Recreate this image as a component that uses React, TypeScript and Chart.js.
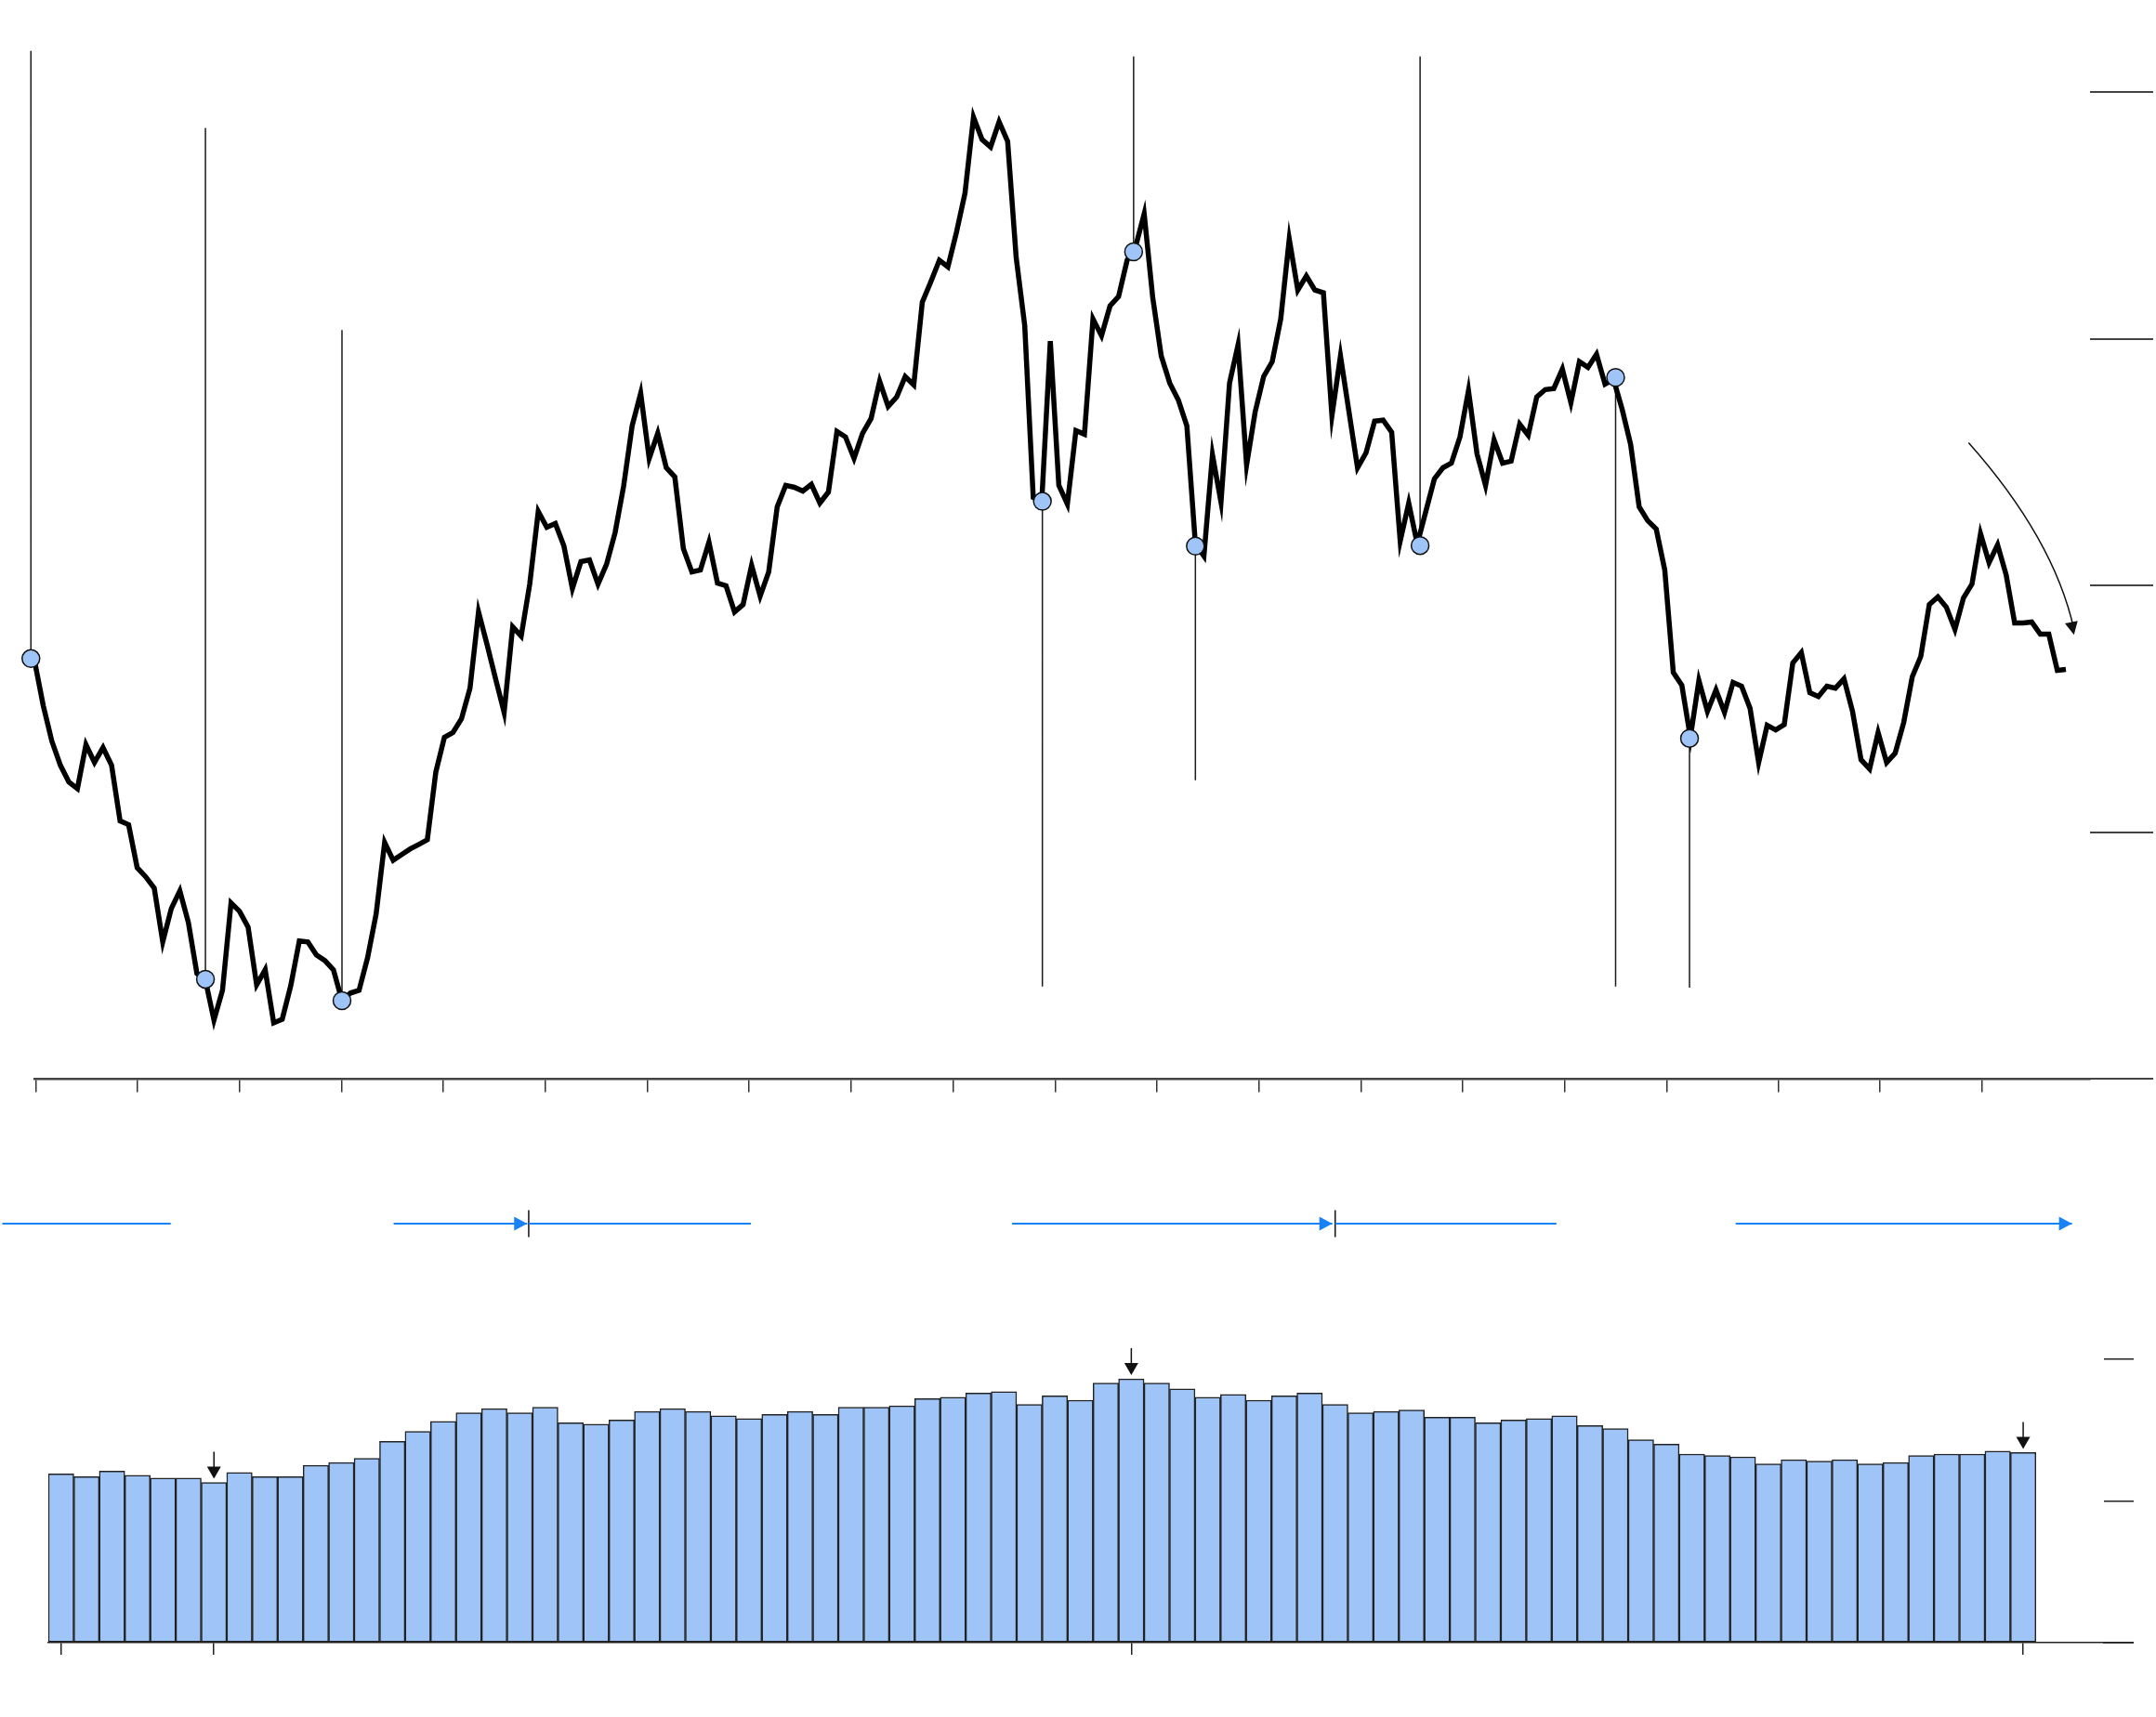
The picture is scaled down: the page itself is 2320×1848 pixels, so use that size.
import React, { useEffect, useRef } from "react";
import { Chart, registerables } from "chart.js";

Chart.register(...registerables);

// ---------------- data ----------------
// main series (one value per period)
const priceValues: number[] = [
  16.9, 15.13, 13.7, 12.72, 12.04, 11.77, 13.55, 12.83, 13.43, 12.72,
  10.46, 10.31, 8.57, 8.2, 7.74, 5.56, 6.91, 7.63, 6.35, 4.28,
  4.01, 2.39, 3.6, 7.14, 6.8, 6.16, 3.82, 4.43, 2.28, 2.43,
  3.79, 5.6, 5.56, 5.03, 4.8, 4.43, 3.18, 3.49, 3.6, 4.92,
  6.69, 9.59, 8.87, 9.1, 9.33, 9.51, 9.7, 12.45, 13.85, 14.04,
  14.6, 15.84, 18.93, 17.61, 16.22, 14.86, 18.33, 17.95, 20.06, 23.0,
  22.36, 22.51, 21.61, 19.88, 20.97, 21.04, 20.06, 20.86, 22.14, 24.02,
  26.47, 27.79, 25.15, 26.17, 24.77, 24.4, 21.5, 20.55, 20.63, 21.76,
  20.1, 19.99, 18.93, 19.23, 20.82, 19.57, 20.55, 23.19, 24.06, 23.98,
  23.83, 24.1, 23.34, 23.79, 26.24, 26.02, 25.15, 26.17, 26.77, 28.28,
  27.26, 27.64, 28.47, 28.13, 31.48, 32.31, 33.18, 32.91, 34.31, 35.89,
  38.98, 38.07, 37.77, 38.79, 38.0, 33.29, 30.54, 23.57, 23.42, 29.9,
  24.06, 23.3, 26.28, 26.13, 30.8, 30.12, 31.33, 31.71, 33.18, 33.74,
  35.06, 31.67, 29.3, 28.2, 27.52, 26.47, 21.68, 21.19, 25.3, 23.38,
  28.2, 29.75, 24.89, 27.03, 28.47, 29.07, 30.8, 34.04, 31.97, 32.54,
  31.97, 31.86, 26.88, 29.3, 27.03, 24.77, 25.38, 26.66, 26.7, 26.21,
  21.8, 23.34, 21.68, 23.0, 24.32, 24.77, 24.96, 26.02, 27.9, 25.34,
  24.06, 25.9, 24.96, 25.04, 26.54, 26.09, 27.64, 27.94, 27.98, 28.77,
  27.41, 29.07, 28.84, 29.37, 28.16, 28.35, 27.15, 25.72, 23.19, 22.63,
  22.29, 20.63, 16.48, 15.96, 13.85, 16.15, 14.9, 15.77, 14.86, 16.07,
  15.92, 15.02, 12.83, 14.34, 14.15, 14.37, 16.86, 17.28, 15.66, 15.5,
  15.92, 15.84, 16.22, 14.9, 12.94, 12.57, 14.04, 12.83, 13.21, 14.45,
  16.3, 17.13, 19.23, 19.54, 19.12, 18.22, 19.5, 20.06, 22.1, 20.93,
  21.65, 20.44, 18.48, 18.48, 18.52, 18.03, 18.03, 16.56, 16.6,
];

// x-axis tick positions (in periods) and right-axis tick values
const priceTickPositions: number[] = [
  0.1, 12.05, 23.99, 35.94, 47.88, 59.83, 71.78, 83.72, 95.67, 107.61,
  119.56, 131.51, 143.45, 155.4, 167.34, 179.29, 191.24, 204.27, 216.21, 228.16,
];
const priceAxisTicks: number[] = [0, 10, 20, 30, 40];

// event markers: position, value on the line, and end of the marker rule
const markerX: number[] = [-0.45, 20, 36, 118.07, 128.76, 136, 162.33, 185.24, 193.9];
const markerY: number[] = [17.04, 4.05, 3.18, 23.41, 33.52, 21.6, 21.62, 28.43, 13.81];
const markerRuleEnd: number[] = [41.66, 38.54, 30.35, 3.75, 41.44, 12.11, 41.44, 3.75, 3.71];

// curved trend arrow: start, control, end (x, y)
const trendArrowStart: number[] = [226.6, 25.79];
const trendArrowControl: number[] = [236.6, 21.9];
const trendArrowEnd: number[] = [238.95, 18.0];

// timeline (same period axis)
const timelineStart: number[] = [-3.8, 42.05, 57.88, 114.52, 152.38, 199.31];
const timelineEnd: number[] = [15.93, 57.7, 83.92, 152.05, 178.3, 238.72];
const timelineArrow: boolean[] = [false, true, false, true, false, true];
const timelineMarks: number[] = [57.88, 152.38];

// bottom bars
const volumeValues: number[] = [
  1.19, 1.17, 1.21, 1.18, 1.16, 1.16, 1.13, 1.2, 1.17, 1.17,
  1.25, 1.27, 1.3, 1.42, 1.49, 1.56, 1.62, 1.65, 1.62, 1.66,
  1.55, 1.54, 1.57, 1.63, 1.65, 1.63, 1.6, 1.58, 1.61, 1.63,
  1.61, 1.66, 1.66, 1.67, 1.72, 1.73, 1.76, 1.77, 1.68, 1.74,
  1.71, 1.83, 1.86, 1.83, 1.79, 1.73, 1.75, 1.71, 1.74, 1.76,
  1.68, 1.62, 1.63, 1.64, 1.59, 1.59, 1.55, 1.57, 1.58, 1.6,
  1.53, 1.51, 1.43, 1.4, 1.33, 1.32, 1.31, 1.26, 1.29, 1.28,
  1.29, 1.26, 1.27, 1.32, 1.33, 1.33, 1.35, 1.34,
];
const volumeTickPositions: number[] = [0, 6, 42, 77];
const volumeAxisTicks: number[] = [0, 1, 2];
const volumeArrowBars: number[] = [6, 42, 77];

// ---------------- helpers ----------------
const BLUE_FILL = "#9fc5f8";
const TIMELINE_BLUE = "#1a82f7";

function drawHead(
  ctx: CanvasRenderingContext2D,
  tipX: number,
  tipY: number,
  dirX: number,
  dirY: number,
  len: number,
  half: number,
  color: string
) {
  const d = Math.hypot(dirX, dirY) || 1;
  const ux = dirX / d;
  const uy = dirY / d;
  const bx = tipX - ux * len;
  const by = tipY - uy * len;
  ctx.beginPath();
  ctx.moveTo(tipX, tipY);
  ctx.lineTo(bx - uy * half, by + ux * half);
  ctx.lineTo(bx + uy * half, by - ux * half);
  ctx.closePath();
  ctx.fillStyle = color;
  ctx.fill();
}

const fixedTicks = (vals: number[]) => (scale: any) => {
  scale.ticks = vals.map((v) => ({ value: v }));
};

export default function App() {
  const topRef = useRef<HTMLCanvasElement | null>(null);
  const midRef = useRef<HTMLCanvasElement | null>(null);
  const botRef = useRef<HTMLCanvasElement | null>(null);

  useEffect(() => {
    const charts: Chart[] = [];

    // ---------- top price chart ----------
    const trendArrowPlugin = {
      id: "trendArrow",
      afterDatasetsDraw(chart: any) {
        const { ctx, scales } = chart;
        const xs = scales.x;
        const ys = scales.y;
        const sx = xs.getPixelForValue(trendArrowStart[0]);
        const sy = ys.getPixelForValue(trendArrowStart[1]);
        const cx = xs.getPixelForValue(trendArrowControl[0]);
        const cy = ys.getPixelForValue(trendArrowControl[1]);
        const ex = xs.getPixelForValue(trendArrowEnd[0]);
        const ey = ys.getPixelForValue(trendArrowEnd[1]);
        ctx.save();
        ctx.strokeStyle = "#111";
        ctx.lineWidth = 1.5;
        ctx.beginPath();
        ctx.moveTo(sx, sy);
        ctx.quadraticCurveTo(cx, cy, ex, ey - 6);
        ctx.stroke();
        drawHead(ctx, ex, ey, ex - cx, ey - cy, 14, 7, "#111");
        ctx.restore();
      },
    };

    // rules listed from last marker to first (unsorted so every rule is drawn)
    const ruleData: any[] = [];
    for (let i = markerX.length - 1; i >= 0; i--) {
      const x = markerX[i];
      ruleData.push({ x, y: markerY[i] });
      ruleData.push({ x, y: markerRuleEnd[i] });
      ruleData.push({ x, y: null });
    }

    if (topRef.current) {
      charts.push(
        new Chart(topRef.current, {
          type: "line",
          data: {
            datasets: [
              {
                label: "markers",
                data: markerX.map((x, i) => ({ x, y: markerY[i] })),
                showLine: false,
                pointRadius: 9.5,
                pointHoverRadius: 9.5,
                pointBackgroundColor: BLUE_FILL,
                pointBorderColor: "#111",
                pointBorderWidth: 1.5,
                clip: false,
                order: 0,
              } as any,
              {
                label: "price",
                data: priceValues.map((v, i) => ({ x: i, y: v })),
                borderColor: "#000",
                borderWidth: 5.5,
                pointRadius: 0,
                tension: 0,
                fill: false,
                clip: false,
                order: 1,
              } as any,
              {
                label: "rules",
                data: ruleData,
                borderColor: "#1a1a1a",
                borderWidth: 1.5,
                pointRadius: 0,
                spanGaps: false,
                fill: false,
                clip: false,
                order: 2,
              } as any,
            ],
          },
          options: {
            responsive: false,
            animation: false,
            devicePixelRatio: 1,
            events: [],
            layout: {
              autoPadding: false,
              padding: { left: 37.4, right: 3, top: 45.8, bottom: 24.5 },
            },
            plugins: { legend: { display: false }, tooltip: { enabled: false } },
            scales: {
              x: {
                type: "linear",
                position: "bottom",
                min: 0,
                max: 240.83,
                afterBuildTicks: fixedTicks(priceTickPositions),
                ticks: { display: false },
                grid: {
                  drawOnChartArea: false,
                  drawTicks: true,
                  tickLength: 14,
                  color: "#333",
                  lineWidth: 1.5,
                },
                border: { display: true, color: "#444", width: 2.5 },
              },
              y: {
                type: "linear",
                position: "right",
                min: -0.001,
                max: 42,
                afterBuildTicks: fixedTicks(priceAxisTicks),
                ticks: { display: false },
                grid: {
                  drawOnChartArea: false,
                  drawTicks: true,
                  tickLength: 68,
                  color: "#444",
                  lineWidth: 2,
                },
                border: { display: false },
              },
            },
          } as any,
          plugins: [trendArrowPlugin],
        })
      );
    }

    // ---------- timeline ----------
    const segData: any[] = [];
    timelineStart.forEach((s, i) => {
      segData.push({ x: s, y: 0.5 });
      segData.push({ x: timelineEnd[i], y: 0.5 });
      segData.push({ x: timelineEnd[i], y: null });
    });
    const timelineArrowPlugin = {
      id: "timelineArrows",
      afterDatasetsDraw(chart: any) {
        const { ctx, scales } = chart;
        ctx.save();
        timelineEnd.forEach((e, i) => {
          if (!timelineArrow[i]) return;
          const px = scales.x.getPixelForValue(e);
          const py = scales.y.getPixelForValue(0.5);
          drawHead(ctx, px, py, 1, 0, 14, 7.5, TIMELINE_BLUE);
        });
        ctx.restore();
      },
    };
    if (midRef.current) {
      charts.push(
        new Chart(midRef.current, {
          type: "line",
          data: {
            datasets: [
              {
                data: segData,
                borderColor: TIMELINE_BLUE,
                borderWidth: 2,
                pointRadius: 0,
                spanGaps: false,
                clip: false,
              } as any,
              {
                data: timelineMarks.map((x) => ({ x, y: 0.5 })),
                showLine: false,
                pointStyle: "line",
                pointRotation: 90,
                pointRadius: 14.5,
                pointBorderColor: "#111",
                pointBorderWidth: 1.5,
                clip: false,
              } as any,
            ],
          },
          options: {
            responsive: false,
            animation: false,
            devicePixelRatio: 1,
            events: [],
            layout: { autoPadding: false, padding: { left: 37.4, right: 71, top: 0, bottom: 0 } },
            plugins: { legend: { display: false }, tooltip: { enabled: false } },
            scales: {
              x: { type: "linear", min: 0, max: 240.83, display: false },
              y: { type: "linear", min: 0, max: 1, display: false },
            },
          } as any,
          plugins: [timelineArrowPlugin],
        })
      );
    }

    // ---------- bottom bars ----------
    const barArrowPlugin = {
      id: "barArrows",
      afterDraw(chart: any) {
        const { ctx, chartArea, scales } = chart;
        const meta = chart.getDatasetMeta(0);
        ctx.save();
        ctx.strokeStyle = "#222";
        ctx.lineWidth = 1.5;
        // baseline continues under the right-hand tick marks
        const y0 = scales.y.getPixelForValue(0);
        ctx.beginPath();
        ctx.moveTo(chartArea.right - 1, y0);
        ctx.lineTo(scales.y.right, y0);
        ctx.stroke();
        ctx.strokeStyle = "#111";
        volumeArrowBars.forEach((idx) => {
          const el = meta.data[idx];
          if (!el) return;
          const x = el.x;
          const y = el.y;
          ctx.beginPath();
          ctx.moveTo(x, y - 33);
          ctx.lineTo(x, y - 16);
          ctx.stroke();
          drawHead(ctx, x, y - 4, 0, 1, 13, 7.5, "#111");
        });
        ctx.restore();
      },
    };
    if (botRef.current) {
      charts.push(
        new Chart(botRef.current, {
          type: "bar",
          data: {
            datasets: [
              {
                data: volumeValues.map((v, i) => ({ x: i, y: v })),
                backgroundColor: BLUE_FILL,
                borderColor: "#222",
                borderWidth: 1.5,
                borderSkipped: false,
                categoryPercentage: 1,
                barPercentage: 1,
              } as any,
            ],
          },
          options: {
            responsive: false,
            animation: false,
            devicePixelRatio: 1,
            events: [],
            layout: { autoPadding: false, padding: { left: 52, right: 24, top: 32, bottom: 67 } },
            plugins: { legend: { display: false }, tooltip: { enabled: false } },
            scales: {
              x: {
                type: "linear",
                position: "bottom",
                min: -0.5,
                max: 80.17,
                offset: false,
                afterBuildTicks: fixedTicks(volumeTickPositions),
                ticks: { display: false },
                grid: {
                  offset: false,
                  drawOnChartArea: false,
                  drawTicks: true,
                  tickLength: 13,
                  color: "#222",
                  lineWidth: 1.5,
                },
                border: { display: true, color: "#222", width: 1.5 },
              },
              y: {
                type: "linear",
                position: "right",
                min: -0.0001,
                max: 2.2011,
                afterBuildTicks: fixedTicks(volumeAxisTicks),
                ticks: { display: false },
                grid: {
                  drawOnChartArea: false,
                  drawTicks: true,
                  tickLength: 32,
                  color: "#222",
                  lineWidth: 1.5,
                },
                border: { display: false },
              },
            },
          } as any,
          plugins: [barArrowPlugin],
        })
      );
    }

    return () => {
      charts.forEach((c) => c.destroy());
    };
  }, []);

  return (
    <div
      style={{
        position: "absolute",
        left: 0,
        top: 0,
        width: 2320,
        height: 1848,
        background: "#ffffff",
        overflow: "hidden",
      }}
    >
      <canvas ref={topRef} width={2320} height={1200} style={{ position: "absolute", left: 0, top: 0 }} />
      <canvas ref={midRef} width={2320} height={80} style={{ position: "absolute", left: 0, top: 1277 }} />
      <canvas ref={botRef} width={2320} height={448} style={{ position: "absolute", left: 0, top: 1400 }} />
    </div>
  );
}
